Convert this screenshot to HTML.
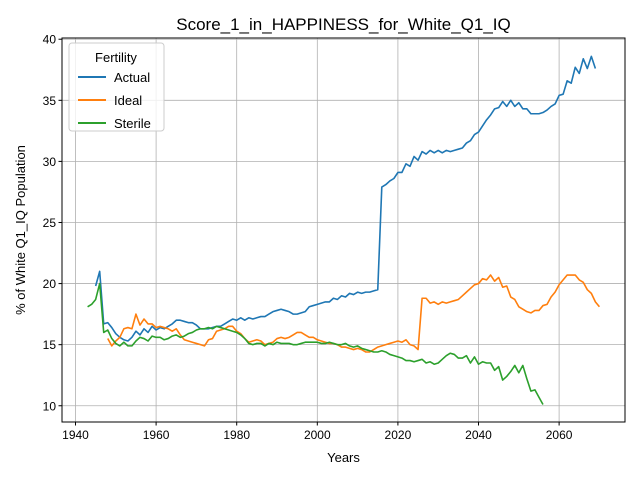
<!DOCTYPE html>
<html><head><meta charset="utf-8"><style>
body{margin:0;background:#fff}
svg{font-family:"Liberation Sans","DejaVu Sans",sans-serif;display:block}
</style></head><body>
<svg id="chart" width="640" height="480" viewBox="0 0 640 480" xmlns="http://www.w3.org/2000/svg">
<rect width="640" height="480" fill="#fff"/>
<text x="343.5" y="30" font-size="17" text-anchor="middle">Score_1_in_HAPPINESS_for_White_Q1_IQ</text>
<g id="grid"></g><g id="series"></g>
<rect x="62" y="38" width="563" height="384" fill="none" stroke="#000" stroke-width="1"/>
<g id="ticks"></g>
<text x="343.5" y="462" font-size="13" text-anchor="middle">Years</text>
<text transform="translate(25,230) rotate(-90)" font-size="13" text-anchor="middle">% of White Q1_IQ Population</text>
<g>
<rect x="69" y="43" width="95" height="88" rx="3" fill="#fff" fill-opacity="0.8" stroke="#ccc"/>
<text x="116" y="62" font-size="13" text-anchor="middle">Fertility</text>
<line x1="78" y1="77" x2="106" y2="77" stroke="#1f77b4" stroke-width="2"/>
<text x="114" y="82" font-size="13">Actual</text>
<line x1="78" y1="100" x2="106" y2="100" stroke="#ff7f0e" stroke-width="2"/>
<text x="114" y="105" font-size="13">Ideal</text>
<line x1="78" y1="123" x2="106" y2="123" stroke="#2ca02c" stroke-width="2"/>
<text x="114" y="128" font-size="13">Sterile</text>
</g>
</svg>
<script>
const actualStart=1945;
const actualValues=[19.8,21.0,16.7,16.8,16.4,15.9,15.6,15.4,15.3,15.6,16.1,15.8,16.3,16.0,16.5,16.2,16.4,16.3,16.5,16.7,17.0,17.0,16.9,16.8,16.8,16.6,16.3,16.3,16.3,16.4,16.5,16.5,16.7,16.9,17.1,17.0,17.2,17.0,17.2,17.1,17.2,17.3,17.3,17.5,17.7,17.8,17.9,17.8,17.7,17.5,17.5,17.6,17.7,18.1,18.2,18.3,18.4,18.5,18.5,18.8,18.7,19.0,18.9,19.2,19.1,19.3,19.2,19.3,19.3,19.4,19.5,27.9,28.1,28.4,28.6,29.1,29.1,29.8,29.6,30.4,30.1,30.8,30.6,30.9,30.7,30.9,30.7,30.9,30.8,30.9,31.0,31.1,31.5,31.7,32.2,32.4,32.9,33.4,33.8,34.3,34.4,34.9,34.5,35.0,34.5,34.8,34.3,34.3,33.9,33.9,33.9,34.0,34.2,34.5,34.7,35.4,35.5,36.6,36.4,37.7,37.2,38.4,37.6,38.6,37.6];
const idealStart=1948;
const idealValues=[15.5,14.9,15.3,15.6,16.3,16.4,16.3,17.5,16.6,17.1,16.7,16.7,16.4,16.5,16.4,16.3,16.1,16.3,15.8,15.4,15.3,15.2,15.1,15.0,14.9,15.4,15.5,16.1,16.2,16.3,16.5,16.5,16.1,15.9,15.5,15.2,15.3,15.4,15.3,15.0,15.1,15.2,15.5,15.6,15.5,15.6,15.8,16.0,16.0,15.8,15.6,15.6,15.4,15.3,15.2,15.1,15.1,15.0,14.8,14.8,14.7,14.6,14.7,14.6,14.4,14.4,14.6,14.8,14.9,15.0,15.1,15.2,15.3,15.2,15.4,15.0,14.9,14.6,18.8,18.8,18.4,18.5,18.3,18.5,18.4,18.5,18.6,18.7,19.0,19.3,19.6,19.9,20.0,20.4,20.3,20.7,20.2,20.5,19.7,19.8,18.9,18.7,18.1,17.9,17.7,17.6,17.8,17.8,18.2,18.3,18.9,19.3,19.9,20.3,20.7,20.7,20.7,20.3,20.1,19.5,19.2,18.5,18.1];
const sterileStart=1943;
const sterileValues=[18.1,18.3,18.7,20.0,16.0,16.2,15.5,15.1,14.9,15.2,14.9,14.9,15.3,15.6,15.5,15.3,15.7,15.6,15.6,15.4,15.5,15.7,15.8,15.6,15.7,15.9,16.0,16.2,16.3,16.3,16.4,16.3,16.5,16.4,16.3,16.2,16.1,16.0,15.8,15.5,15.1,15.0,15.1,15.1,14.9,15.1,15.0,15.2,15.1,15.1,15.1,15.0,15.0,15.1,15.2,15.2,15.2,15.2,15.1,15.1,15.2,15.1,15.0,15.0,15.1,14.9,14.8,14.9,14.7,14.6,14.5,14.4,14.4,14.5,14.4,14.2,14.1,14.0,13.9,13.7,13.7,13.6,13.7,13.8,13.5,13.6,13.4,13.5,13.8,14.1,14.3,14.2,13.9,13.9,14.1,13.5,14.0,13.4,13.6,13.5,13.5,12.9,13.2,12.1,12.4,12.8,13.3,12.7,13.3,12.2,11.2,11.3,10.7,10.1];
const xTicks=[1940,1960,1980,2000,2020,2040,2060];
const yTicks=[10,15,20,25,30,35,40];

const X0=62,X1=625,Y0=38,Y1=422,xmin=1936.65,xmax=2076.35,ymin=8.67,ymax=40.1;
const sx=v=>X0+(v-xmin)/(xmax-xmin)*(X1-X0);
const sy=v=>Y1-(v-ymin)/(ymax-ymin)*(Y1-Y0);
const NS="http://www.w3.org/2000/svg";
function mk(tag,attrs,parent){const e=document.createElementNS(NS,tag);for(const k in attrs)e.setAttribute(k,attrs[k]);parent.appendChild(e);return e;}
const grid=document.getElementById('grid'),ticks=document.getElementById('ticks'),series=document.getElementById('series');
xTicks.forEach(t=>{const x=sx(t);
 const g=mk('line',{x1:x,x2:x,y1:Y0,y2:Y1,stroke:'#b0b0b0','stroke-width':0.8},grid);
 
 
 mk('line',{x1:x,x2:x,y1:Y1,y2:Y1+3.5,stroke:'#000'},ticks);
 const l=mk('text',{x:x,y:Y1+17,'font-size':12,'text-anchor':'middle'},ticks);l.textContent=t;
 
 
});
yTicks.forEach(t=>{const y=sy(t);
 const g=mk('line',{x1:X0,x2:X1,y1:y,y2:y,stroke:'#b0b0b0','stroke-width':0.8},grid);
 
 
 mk('line',{x1:X0-3.5,x2:X0,y1:y,y2:y,stroke:'#000'},ticks);
 const l=mk('text',{x:X0-6,y:y+4.5,'font-size':12,'text-anchor':'end'},ticks);l.textContent=t;
 
 
});
function line(start,vals,color,name){
 const d=vals.map((v,i)=>(i?'L':'M')+sx(start+i).toFixed(2)+','+sy(v).toFixed(2)).join('');
 const p=mk('path',{d:d,fill:'none',stroke:color,'stroke-width':1.6,'stroke-linejoin':'round'},series);
 
 
}
line(actualStart,actualValues,'#1f77b4','series-actual');
line(idealStart,idealValues,'#ff7f0e','series-ideal');
line(sterileStart,sterileValues,'#2ca02c','series-sterile');
</script>
</body></html>
